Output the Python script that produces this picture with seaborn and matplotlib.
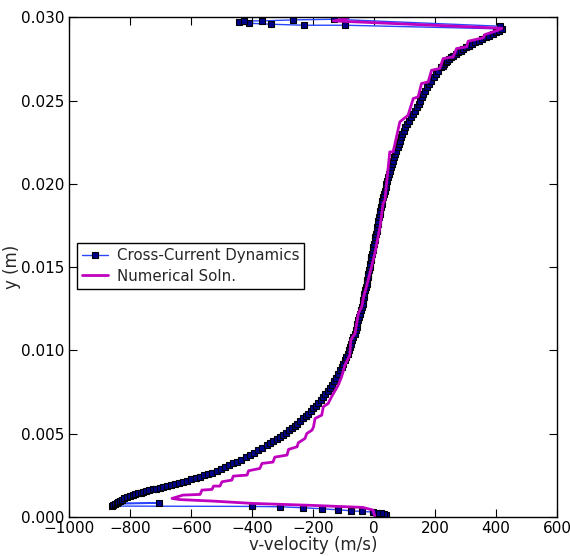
import matplotlib
matplotlib.use("Agg")
import matplotlib.pyplot as plt
import seaborn as sns

# --- Cross-Current Dynamics profile (v in m/s, y in m) ---
# near-wall points at the bottom
wall_y = [0.00012, 0.00016, 0.00022, 0.00026, 0.00030, 0.00034, 0.00038, 0.00044,
          0.00050, 0.00056, 0.00062, 0.00064]
wall_v = [39, 34, 23, 9, -3, -40, -76, -119, -171, -234, -308, -401]

# lower branch
low_y = [0.00066, 0.00072, 0.00078, 0.00084, 0.00085, 0.00092, 0.00099, 0.00105, 0.00112,
         0.00118, 0.00125, 0.00131, 0.00136, 0.00142, 0.00147, 0.00152, 0.00157, 0.00162,
         0.00166, 0.00171, 0.00176, 0.00181, 0.00186, 0.00192, 0.00198, 0.00205, 0.00212,
         0.00219, 0.00226, 0.00234, 0.00242, 0.00250, 0.00258, 0.00267, 0.00276, 0.00287,
         0.00298, 0.00310, 0.00322, 0.00333, 0.00345, 0.00358, 0.00372, 0.00386, 0.00400,
         0.00416, 0.00432, 0.00444, 0.00456, 0.00469, 0.00482, 0.00494, 0.00507, 0.00520,
         0.00532, 0.00546, 0.00561, 0.00576, 0.00592, 0.00606, 0.00621, 0.00636, 0.00652,
         0.00669, 0.00686, 0.00704, 0.00722, 0.00739, 0.00756, 0.00774, 0.00792, 0.00814,
         0.00837, 0.00860, 0.00882]
low_v = [-860, -855, -849, -705, -844, -838, -832, -826, -819, -811, -801, -791, -782,
         -773, -764, -756, -746, -736, -726, -714, -702, -691, -680, -667, -653, -639,
         -625, -612, -599, -585, -571, -557, -544, -530, -516, -502, -488, -474, -461,
         -448, -436, -421, -407, -393, -380, -366, -352, -341, -331, -319, -308, -298,
         -289, -279, -270, -260, -251, -241, -232, -224, -216, -207, -199, -191, -183,
         -174, -166, -159, -152, -145, -139, -132, -125, -118, -111]

# central core
mid_y = [0.0090, 0.0092, 0.0094, 0.0096, 0.0098, 0.0100, 0.0102, 0.0104, 0.0106, 0.0108,
         0.0110, 0.0112, 0.0114, 0.0116, 0.0118, 0.0120, 0.0122, 0.0124, 0.0126, 0.0128,
         0.0130, 0.0132, 0.0134, 0.0136, 0.0138, 0.0140, 0.0142, 0.0144, 0.0146, 0.0148,
         0.0150, 0.0152, 0.0154, 0.0156, 0.0158, 0.0160, 0.0162, 0.0164, 0.0166, 0.0168,
         0.0170, 0.0172, 0.0174, 0.0176, 0.0178, 0.0180, 0.0182, 0.0184, 0.0186, 0.0188,
         0.0190, 0.0192, 0.0194, 0.0196, 0.0198, 0.0200, 0.0202, 0.0204, 0.0206, 0.0208,
         0.0210, 0.0212, 0.0214, 0.0216, 0.0218, 0.0220, 0.0222, 0.0224, 0.0226, 0.0228,
         0.0230, 0.0232, 0.0234, 0.0236, 0.0238, 0.0240]
mid_v = [-106, -100, -95, -90, -86, -82, -78, -74, -71, -67,
         -63, -60, -57, -54, -51, -48, -45, -42, -40, -37,
         -35, -33, -31, -28, -26, -24, -22, -20, -18, -16,
         -14, -12, -10, -8, -6, -4, -2, 1, 3, 5,
         7, 9, 11, 13, 15, 17, 19, 21, 24, 26,
         28, 31, 33, 36, 38, 41, 44, 47, 50, 53,
         56, 59, 62, 66, 70, 74, 78, 81, 85, 88,
         92, 97, 102, 108, 115, 122]

# upper branch
up_y = [0.0242, 0.0244, 0.0246, 0.0248, 0.0250, 0.0252, 0.0254, 0.0256, 0.0258, 0.0260,
        0.0262, 0.0264, 0.0266, 0.0268, 0.0270, 0.0271, 0.0272, 0.0273, 0.0274, 0.0275,
        0.0276, 0.0277, 0.0278, 0.0279, 0.0280, 0.0281, 0.0282, 0.0283, 0.0284, 0.0285,
        0.0286, 0.0287, 0.0288, 0.0289, 0.0290, 0.0291, 0.0292, 0.0293]
up_v = [129, 135, 141, 147, 152, 157, 162, 168, 174, 181,
        188, 196, 203, 211, 220, 225, 230, 235, 241, 247,
        253, 260, 268, 276, 284, 293, 302, 312, 322, 332,
        343, 355, 367, 379, 390, 401, 411, 420]

# near-wall points at the top
top_y = [0.02952, 0.02952, 0.02958, 0.02964, 0.02970, 0.02978, 0.02978, 0.02984,
         0.02988, 0.02946]
top_v = [-95, -229, -338, -410, -443, -427, -366, -266, -131, 413]

ccd_y = wall_y + low_y + mid_y + up_y + top_y
ccd_v = wall_v + low_v + mid_v + up_v + top_v

# --- Numerical solution ---
num_y = [0.00003, 0.00042, 0.00058, 0.00070, 0.00082, 0.00096, 0.00105, 0.00112, 0.00132,
         0.00136, 0.00162, 0.00166, 0.00186, 0.00186, 0.00212, 0.00222, 0.00246, 0.00252,
         0.00278, 0.00292, 0.00322, 0.00330, 0.00360, 0.00372, 0.00406, 0.00422, 0.00446,
         0.00472, 0.00502, 0.00522, 0.00542, 0.00592, 0.00612, 0.00662, 0.00682, 0.00722,
         0.00792, 0.00842, 0.00912, 0.00972, 0.01062, 0.01102, 0.01222, 0.01262, 0.01312,
         0.01422, 0.01582, 0.01742, 0.01882, 0.01902, 0.02102, 0.02192, 0.02192, 0.02282,
         0.02372, 0.02412, 0.02512, 0.02522, 0.02602, 0.02612, 0.02682, 0.02692, 0.02752,
         0.02762, 0.02812, 0.02822, 0.02856, 0.02876, 0.02896, 0.02922, 0.02934, 0.02978,
         0.02996]
num_v = [3, -3, -36, -200, -397, -528, -636, -662, -626, -570, -564, -531, -526, -505,
         -498, -466, -461, -416, -411, -374, -367, -331, -325, -285, -280, -252, -248,
         -226, -220, -203, -198, -193, -171, -166, -150, -139, -117, -106, -95, -79, -76,
         -62, -51, -40, -35, -19, 3, 20, 30, 36, 47, 52, 63, 74, 85, 112, 129, 145, 156,
         178, 189, 216, 227, 260, 271, 304, 309, 358, 364, 408, 420, -133, -84]

x_ticks = [-1000, -800, -600, -400, -200, 0, 200, 400, 600]
y_ticks = [0.000, 0.005, 0.010, 0.015, 0.020, 0.025, 0.030]

sns.set_style("ticks")
plt.rcParams.update({
    "font.family": ["DejaVu Sans"],
    "font.size": 11,
    "xtick.direction": "in",
    "ytick.direction": "in",
    "xtick.top": True,
    "ytick.right": True,
    "xtick.major.size": 5.5,
    "ytick.major.size": 5.5,
    "xtick.major.width": 0.8,
    "ytick.major.width": 0.8,
    "xtick.color": "black",
    "ytick.color": "black",
    "axes.edgecolor": "black",
    "axes.linewidth": 1.0,
})

fig, ax = plt.subplots(figsize=(5.7, 5.56), dpi=100)
fig.subplots_adjust(left=0.121, right=0.977, bottom=0.070, top=0.969)

sns.lineplot(x=ccd_v, y=ccd_y, sort=False, estimator=None, ax=ax,
             color="#2a46ff", linewidth=1.0, marker="s", markersize=4,
             markerfacecolor="#00008b", markeredgecolor="black",
             markeredgewidth=0.8, label="Cross-Current Dynamics")
sns.lineplot(x=num_v, y=num_y, sort=False, estimator=None, ax=ax,
             color="#bf00bf", linewidth=2.0, label="Numerical Soln.")

ax.set_xlim(-1000, 600)
ax.set_ylim(0, 0.030)
ax.set_xticks(x_ticks)
ax.set_yticks(y_ticks)
ax.set_yticklabels([f"{v:.3f}" for v in y_ticks])
ax.tick_params(labelsize=11, pad=3)
ax.set_xlabel("v-velocity (m/s)", fontsize=12)
ax.set_ylabel("y (m)", fontsize=12)
ax.xaxis.set_label_coords(0.5, -0.038)
ax.yaxis.set_label_coords(-0.098, 0.5)

leg = ax.legend(loc="upper left", bbox_to_anchor=(0.0164, 0.548), borderaxespad=0,
                numpoints=1, fontsize=10.8, handlelength=1.7, fancybox=False,
                frameon=True, framealpha=1.0, edgecolor="black",
                borderpad=0.35, labelspacing=0.35, handletextpad=0.6)
leg.get_frame().set_linewidth(1.0)

fig.savefig("out.png", dpi=100)
